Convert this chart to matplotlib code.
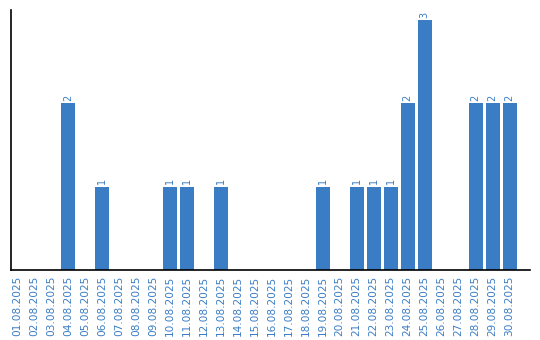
import matplotlib
matplotlib.use("Agg")
import matplotlib.pyplot as plt

days = ["%02d.08.2025" % d for d in range(1, 31)]
counts = [0, 0, 0, 2, 0, 1, 0, 0, 0, 1,
          1, 0, 1, 0, 0, 0, 0, 0, 1, 0,
          1, 1, 1, 2, 3, 0, 0, 2, 2, 2]

bar_color = "#3b7dc4"
text_color = "#3b7dc4"

fig = plt.figure(figsize=(5.4, 3.4), dpi=100)
ax = fig.add_axes([11 / 540, 70 / 340, 519 / 540, 260 / 340])

x = list(range(len(days)))
ax.bar(x, counts, width=0.82, color=bar_color)

for i, c in enumerate(counts):
    if c > 0:
        ax.text(i, c + 0.03, str(c), rotation=90, ha="center", va="bottom",
                fontsize=7, color=text_color)

ax.set_xlim(-0.35, 30.2)
ax.set_ylim(0, 3.12)
ax.set_xticks(x)
ax.set_xticklabels(days, rotation=90, fontsize=7.6, color=text_color)
ax.tick_params(axis="x", length=0, pad=4)
ax.set_yticks([])
ax.spines["top"].set_visible(False)
ax.spines["right"].set_visible(False)
ax.spines["left"].set_linewidth(1.2)
ax.spines["bottom"].set_linewidth(1.2)

fig.savefig("out.png", dpi=100)
